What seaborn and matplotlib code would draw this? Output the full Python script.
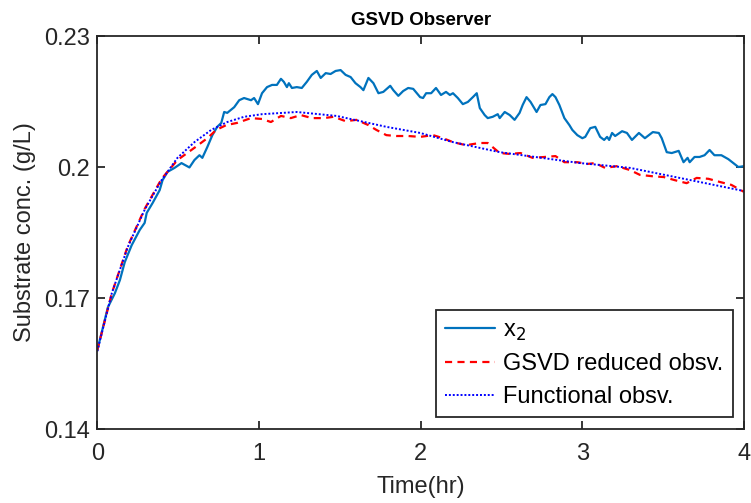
import numpy as np
import pandas as pd
import matplotlib
matplotlib.use("Agg")
import matplotlib.pyplot as plt
import seaborn as sns

# Measured state x2 (substrate concentration, g/L) over time (hr)
t_x2 = [0.000, 0.066, 0.109, 0.140, 0.170, 0.213, 0.263, 0.293, 0.306, 0.343,
        0.386, 0.404, 0.435, 0.478, 0.521, 0.570, 0.601, 0.632, 0.650, 0.681,
        0.712, 0.742, 0.767, 0.785, 0.804, 0.847, 0.878, 0.908, 0.951, 0.970,
        0.994, 1.019, 1.050, 1.081, 1.111, 1.136, 1.154, 1.173, 1.185, 1.204,
        1.234, 1.265, 1.296, 1.327, 1.358, 1.382, 1.413, 1.443, 1.474, 1.505,
        1.536, 1.567, 1.597, 1.628, 1.646, 1.677, 1.708, 1.739, 1.769, 1.812,
        1.831, 1.862, 1.892, 1.923, 1.954, 1.997, 2.015, 2.034, 2.065, 2.095,
        2.126, 2.157, 2.181, 2.200, 2.230, 2.261, 2.292, 2.323, 2.347, 2.366,
        2.396, 2.415, 2.446, 2.477, 2.489, 2.520, 2.551, 2.581, 2.612, 2.631,
        2.655, 2.680, 2.717, 2.741, 2.772, 2.796, 2.815, 2.834, 2.858, 2.889,
        2.920, 2.938, 2.969, 3.000, 3.018, 3.049, 3.080, 3.110, 3.135, 3.153,
        3.166, 3.184, 3.203, 3.246, 3.276, 3.307, 3.350, 3.387, 3.436, 3.473,
        3.491, 3.522, 3.553, 3.596, 3.626, 3.651, 3.664, 3.694, 3.725, 3.756,
        3.787, 3.817, 3.860, 3.903, 3.934, 3.965, 4.000]
x2 = [0.1580, 0.1679, 0.1711, 0.1741, 0.1782, 0.1821, 0.1856, 0.1872, 0.1895, 0.1918,
      0.1947, 0.1970, 0.1989, 0.1998, 0.2009, 0.1999, 0.2016, 0.2027, 0.2021, 0.2046,
      0.2073, 0.2092, 0.2101, 0.2126, 0.2124, 0.2137, 0.2153, 0.2158, 0.2153, 0.2158,
      0.2144, 0.2169, 0.2183, 0.2188, 0.2188, 0.2202, 0.2195, 0.2183, 0.2192, 0.2181,
      0.2183, 0.2181, 0.2195, 0.2211, 0.2220, 0.2204, 0.2215, 0.2213, 0.2220, 0.2222,
      0.2211, 0.2206, 0.2192, 0.2183, 0.2176, 0.2204, 0.2192, 0.2169, 0.2172, 0.2186,
      0.2176, 0.2163, 0.2174, 0.2181, 0.2179, 0.2160, 0.2158, 0.2169, 0.2169, 0.2181,
      0.2165, 0.2172, 0.2165, 0.2169, 0.2158, 0.2144, 0.2149, 0.2160, 0.2169, 0.2135,
      0.2119, 0.2112, 0.2115, 0.2121, 0.2112, 0.2126, 0.2119, 0.2108, 0.2124, 0.2142,
      0.2160, 0.2149, 0.2126, 0.2142, 0.2144, 0.2160, 0.2167, 0.2160, 0.2142, 0.2112,
      0.2096, 0.2085, 0.2073, 0.2066, 0.2069, 0.2089, 0.2092, 0.2069, 0.2062, 0.2069,
      0.2062, 0.2078, 0.2071, 0.2082, 0.2078, 0.2062, 0.2078, 0.2066, 0.2080, 0.2078,
      0.2066, 0.2034, 0.2032, 0.2037, 0.2011, 0.2021, 0.2011, 0.2023, 0.2023, 0.2027,
      0.2039, 0.2027, 0.2027, 0.2018, 0.2009, 0.2000, 0.2002]

# GSVD reduced-order observer estimate
t_gsvd = [0.000, 0.090, 0.189, 0.293, 0.398, 0.496, 0.601, 0.681, 0.736, 0.798,
          0.865, 0.951, 1.019, 1.074, 1.136, 1.197, 1.259, 1.327, 1.401, 1.462,
          1.536, 1.603, 1.677, 1.726, 1.788, 1.849, 1.923, 1.997, 2.077, 2.138,
          2.200, 2.280, 2.366, 2.415, 2.489, 2.551, 2.618, 2.692, 2.766, 2.834,
          2.889, 2.969, 3.030, 3.080, 3.141, 3.215, 3.295, 3.356, 3.430, 3.504,
          3.571, 3.645, 3.707, 3.780, 3.848, 3.922, 4.000]
gsvd = [0.1580, 0.1711, 0.1819, 0.1904, 0.1973, 0.2016, 0.2044, 0.2066, 0.2085, 0.2096,
        0.2101, 0.2112, 0.2110, 0.2103, 0.2117, 0.2112, 0.2119, 0.2112, 0.2112, 0.2115,
        0.2105, 0.2108, 0.2096, 0.2085, 0.2073, 0.2071, 0.2071, 0.2069, 0.2073, 0.2066,
        0.2057, 0.2050, 0.2055, 0.2055, 0.2032, 0.2030, 0.2032, 0.2021, 0.2023, 0.2025,
        0.2011, 0.2011, 0.2007, 0.2009, 0.1998, 0.2002, 0.1993, 0.1982, 0.1979, 0.1977,
        0.1970, 0.1963, 0.1975, 0.1973, 0.1966, 0.1959, 0.1943]

# Functional observer estimate
t_func = [0.000, 0.090, 0.189, 0.293, 0.398, 0.496, 0.601, 0.705, 0.804, 0.908,
          1.019, 1.234, 1.480, 1.788, 1.997, 2.200, 2.489, 2.987, 3.295, 3.602, 4.000]
func = [0.1578, 0.1711, 0.1817, 0.1902, 0.1970, 0.2021, 0.2057, 0.2085, 0.2103, 0.2115,
        0.2121, 0.2126, 0.2117, 0.2092, 0.2078, 0.2057, 0.2034, 0.2009, 0.1998, 0.1975, 0.1945]

x_ticks = [0, 1, 2, 3, 4]
y_ticks = [0.14, 0.17, 0.20, 0.23]
y_tick_labels = ["0.14", "0.17", "0.2", "0.23"]

sns.set_theme(style="white")
plt.rcParams["font.family"] = ["Liberation Sans", "DejaVu Sans"]

fig = plt.figure(figsize=(7.51, 5.03), dpi=100)
ax = fig.add_axes([0.1295, 0.1471, 0.8612, 0.7813])

df_x2 = pd.DataFrame({"t": t_x2, "v": x2})
df_g = pd.DataFrame({"t": t_gsvd, "v": gsvd})
df_f = pd.DataFrame({"t": t_func, "v": func})

sns.lineplot(data=df_x2, x="t", y="v", ax=ax, color="#0072BD", lw=1.6,
             label="x$_2$", sort=False, estimator=None)
sns.lineplot(data=df_g, x="t", y="v", ax=ax, color="#FF0000", lw=1.6,
             linestyle=(0, (3.2, 2.4)), label="GSVD reduced obsv.", sort=False, estimator=None)
sns.lineplot(data=df_f, x="t", y="v", ax=ax, color="#0000FF", lw=1.4,
             linestyle=(0, (1, 1)), label="Functional obsv.", sort=False, estimator=None)

ax.set_xlim(0, 4)
ax.set_ylim(0.14, 0.23)
ax.set_xticks(x_ticks)
ax.set_xticklabels([str(v) for v in x_ticks])
ax.set_yticks(y_ticks)
ax.set_yticklabels(y_tick_labels)

edge = "#262626"
for s in ax.spines.values():
    s.set_visible(True)
    s.set_color(edge)
    s.set_linewidth(1.3)
ax.tick_params(axis="both", which="both", direction="in", length=6, width=1.3,
               color=edge, labelsize=17, labelcolor="#262626",
               top=True, right=True, bottom=True, left=True, pad=5)
ax.tick_params(axis="x", pad=10)

ax.set_xlabel("Time(hr)", fontsize=17, color="#262626", labelpad=8)
ax.set_ylabel("Substrate conc. (g/L)", fontsize=17, color="#262626", labelpad=6)
ax.set_title("GSVD Observer", fontsize=13.5, fontweight="bold", color="black", pad=8)

leg = ax.legend(loc="lower right", bbox_to_anchor=(0.983, 0.030), fontsize=17,
                frameon=True, fancybox=False, framealpha=1, edgecolor=edge,
                handlelength=2.1, handletextpad=0.35, borderpad=0.4, labelspacing=0.45,
                borderaxespad=0)
leg.get_frame().set_linewidth(1.3)
for txt in leg.get_texts():
    txt.set_color("black")

fig.savefig("out.png", dpi=100, facecolor="white")
